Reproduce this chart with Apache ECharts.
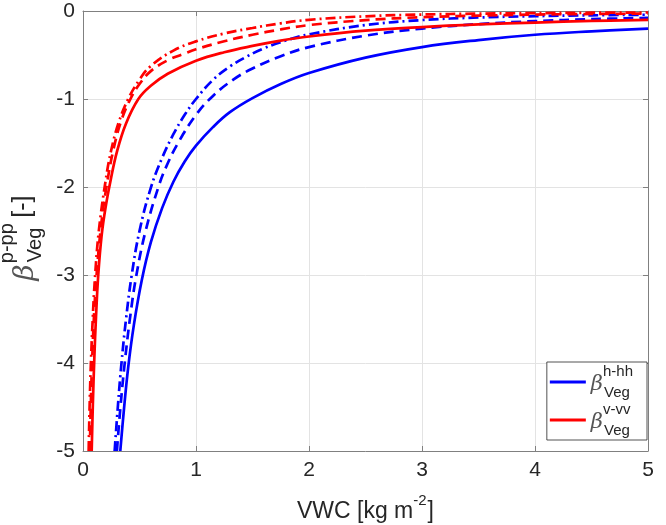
<!DOCTYPE html>
<html>
<head>
<meta charset="utf-8">
<script src="https://cdn.jsdelivr.net/npm/echarts@6/dist/echarts.min.js"></script>
<style>
  html, body { margin: 0; padding: 0; background: #fff; }
  #box1 { width: 666px; height: 525px; }
</style>
</head>
<body>
<div id="box1"></div>
<script>
// data: [VWC, beta]
var hhSolid = [[0.33,-5],[0.36,-4.56],[0.40,-4.05],[0.45,-3.57],[0.52,-3.06],[0.6,-2.63],[0.7,-2.24],[0.8,-1.94],[0.9,-1.71],[1,-1.53],[1.15,-1.32],[1.3,-1.15],[1.5,-0.99],[1.75,-0.83],[2,-0.705],[2.5,-0.53],[3,-0.41],[3.5,-0.33],[4,-0.27],[4.5,-0.231],[5,-0.2]];
var hhDash = [[0.30,-5],[0.33,-4.52],[0.37,-3.99],[0.42,-3.45],[0.47,-3.02],[0.55,-2.52],[0.67,-1.99],[0.75,-1.73],[0.85,-1.48],[1,-1.18],[1.15,-0.965],[1.33,-0.78],[1.5,-0.653],[1.75,-0.514],[2,-0.41],[2.5,-0.28],[3,-0.2],[3.5,-0.149],[4,-0.115],[4.5,-0.093],[5,-0.078]];
var hhDashDot = [[0.28,-5],[0.31,-4.47],[0.34,-4.01],[0.38,-3.51],[0.43,-3.01],[0.5,-2.5],[0.6,-2.01],[0.7,-1.67],[0.8,-1.4],[0.9,-1.18],[1,-1.0],[1.15,-0.783],[1.3,-0.631],[1.45,-0.517],[1.6,-0.425],[1.8,-0.333],[2,-0.265],[2.5,-0.16],[3,-0.103],[3.5,-0.074],[4,-0.059],[4.5,-0.049],[5,-0.042]];

var vvSolid = [[0.077,-5],[0.087,-4.48],[0.1,-3.95],[0.115,-3.48],[0.135,-3.0],[0.165,-2.55],[0.2,-2.23],[0.245,-1.92],[0.3,-1.6],[0.38,-1.28],[0.49,-1.0],[0.6,-0.85],[0.75,-0.713],[1,-0.565],[1.25,-0.468],[1.5,-0.397],[1.75,-0.337],[2,-0.29],[2.5,-0.224],[3,-0.183],[3.5,-0.153],[4,-0.131],[4.5,-0.113],[5,-0.1]];
var vvDash = [[0.06,-5],[0.07,-4.43],[0.08,-4.0],[0.1,-3.4],[0.12,-3.0],[0.16,-2.44],[0.21,-1.98],[0.27,-1.57],[0.34,-1.24],[0.42,-1.0],[0.5,-0.83],[0.6,-0.683],[0.75,-0.56],[0.9,-0.483],[1,-0.435],[1.25,-0.344],[1.5,-0.27],[1.75,-0.209],[2,-0.16],[2.5,-0.104],[3,-0.07],[3.5,-0.053],[4,-0.041],[4.5,-0.034],[5,-0.03]];
var vvDashDot = [[0.05,-5],[0.06,-4.42],[0.07,-4.0],[0.085,-3.53],[0.105,-3.05],[0.14,-2.5],[0.2,-1.93],[0.25,-1.58],[0.315,-1.27],[0.4,-1.0],[0.5,-0.78],[0.6,-0.625],[0.8,-0.45],[1,-0.345],[1.25,-0.256],[1.5,-0.193],[1.75,-0.14],[2,-0.1],[2.5,-0.06],[3,-0.04],[3.5,-0.03],[4,-0.024],[4.5,-0.0196],[5,-0.017]];

var legendNames = ['hh', 'vv'];
var legendSup = { hh: 'h-hh', vv: 'v-vv' };

var FONT = '"Liberation Sans", Arial, Helvetica, sans-serif';
var TXT = '#262626';
var BLUE = '#0000ff';
var RED = '#ff0000';
var DASH = [10, 6];
var DASHDOT = [10, 4, 2, 4];

var chart = echarts.init(document.getElementById('box1'));

function curve(name, data, color, type) {
  return {
    name: name,
    type: 'line',
    data: data,
    showSymbol: false,
    symbol: 'none',
    smooth: 0.4,
    clip: true,
    animation: false,
    lineStyle: { color: color, width: 2.7, type: type },
    itemStyle: { color: color }
  };
}

var axLine = { show: true, onZero: false, lineStyle: { color: '#808080', width: 1 } };
var axTick = { show: true, inside: true, length: 5, lineStyle: { color: '#808080' } };

var option = {
  backgroundColor: '#fff',
  textStyle: { fontFamily: FONT },
  grid: { left: 83, right: 18, top: 11, bottom: 74, outerBoundsMode: 'none', containLabel: false },
  legend: {
    data: legendNames,
    orient: 'vertical',
    right: 19,
    top: 362,
    itemWidth: 36,
    itemHeight: 3,
    itemGap: 2,
    padding: [2, 14, 2, 3],
    backgroundColor: '#fff',
    borderColor: '#262626',
    borderWidth: 0.8,
    borderRadius: 0,
    icon: 'rect',
    formatter: function(name) {
      return '{b|β}{sup|' + legendSup[name] + '}{sub|Veg}';
    },
    textStyle: {
      color: TXT,
      rich: {
        b: { fontSize: 21, fontStyle: 'italic', fontFamily: 'DejaVu Serif', color: '#555', lineHeight: 36, verticalAlign: 'middle', padding: [6, 0, 0, 0] },
        sup: { fontSize: 15, lineHeight: 16, verticalAlign: 'top', width: 1, color: TXT },
        sub: { fontSize: 15, lineHeight: 16, verticalAlign: 'bottom', color: TXT }
      }
    }
  },
  xAxis: [{
    type: 'value',
    min: 0, max: 5, interval: 1,
    name: '{n|VWC [kg m}{s|-2}{n|]}',
    nameLocation: 'middle',
    nameGap: 42,
    nameTextStyle: {
      rich: {
        n: { fontSize: 23, color: TXT, lineHeight: 30, verticalAlign: 'bottom' },
        s: { fontSize: 15, color: TXT, lineHeight: 30, verticalAlign: 'top', padding: [0, 1, 0, 0] }
      }
    },
    axisLine: axLine,
    axisTick: axTick,
    axisLabel: { color: TXT, fontSize: 21, margin: 9 },
    splitLine: { show: true, lineStyle: { color: '#e3e3e3', width: 1 } }
  }, {
    type: 'value', position: 'top',
    min: 0, max: 5, interval: 1,
    axisLine: axLine,
    axisTick: axTick,
    axisLabel: { show: false },
    splitLine: { show: false }
  }],
  yAxis: [{
    type: 'value',
    min: -5, max: 0, interval: 1,
    name: '{b|β}{sup|p-pp}{sub|Veg}{n| [-]}',
    nameLocation: 'middle',
    nameRotate: 90,
    nameGap: 36,
    nameTextStyle: {
      rich: {
        b: { align: 'left', fontSize: 28, fontStyle: 'italic', fontFamily: 'DejaVu Serif', color: '#555', lineHeight: 48, verticalAlign: 'middle', padding: [8, 1, 0, 0] },
        sup: { align: 'left', fontSize: 20, color: TXT, lineHeight: 20, verticalAlign: 'top', width: 1 },
        sub: { align: 'left', fontSize: 20, color: TXT, lineHeight: 20, verticalAlign: 'bottom' },
        n: { align: 'left', fontSize: 25, color: TXT, lineHeight: 48, verticalAlign: 'middle', padding: [4, 14, 0, 3] }
      }
    },
    axisLine: axLine,
    axisTick: axTick,
    axisLabel: { color: TXT, fontSize: 21, margin: 8 },
    splitLine: { show: true, lineStyle: { color: '#e3e3e3', width: 1 } }
  }, {
    type: 'value', position: 'right',
    min: -5, max: 0, interval: 1,
    axisLine: axLine,
    axisTick: axTick,
    axisLabel: { show: false },
    splitLine: { show: false }
  }],
  series: [
    curve('hh', hhSolid, BLUE, 'solid'),
    curve('hh-dash', hhDash, BLUE, DASH),
    curve('hh-dashdot', hhDashDot, BLUE, DASHDOT),
    curve('vv', vvSolid, RED, 'solid'),
    curve('vv-dash', vvDash, RED, DASH),
    curve('vv-dashdot', vvDashDot, RED, DASHDOT)
  ]
};
chart.setOption(option);
</script>
</body>
</html>
